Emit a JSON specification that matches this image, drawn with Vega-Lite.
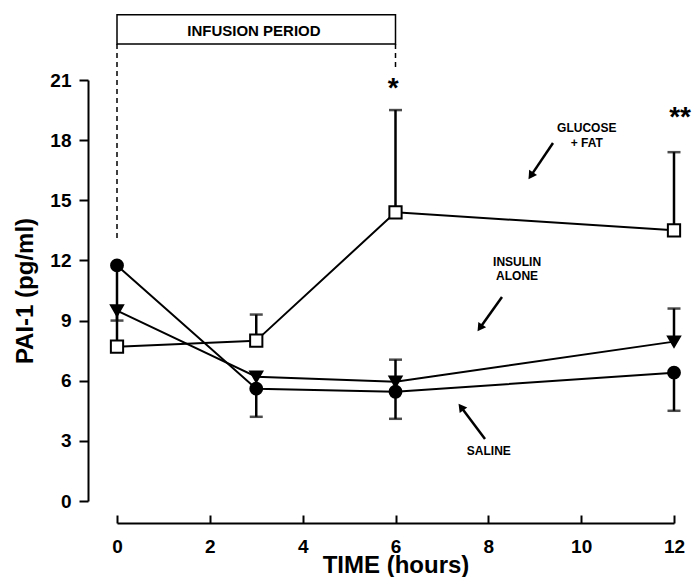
{
  "$schema": "https://vega.github.io/schema/vega-lite/v6.json",
  "width": 557,
  "height": 421,
  "autosize": {"type": "none"},
  "padding": {"left": 117, "top": 80, "right": 20, "bottom": 76},
  "background": "white",
  "config": {"view": {"stroke": null}, "font": "Liberation Sans", "axis": {"grid": false}},
  "datasets": {
    "means": [
      {"series": "Glucose + fat", "time": 0, "pai": 7.7},
      {"series": "Glucose + fat", "time": 3, "pai": 8.0},
      {"series": "Glucose + fat", "time": 6, "pai": 14.4},
      {"series": "Glucose + fat", "time": 12, "pai": 13.5},
      {"series": "Insulin alone", "time": 0, "pai": 9.5},
      {"series": "Insulin alone", "time": 3, "pai": 6.2},
      {"series": "Insulin alone", "time": 6, "pai": 5.95},
      {"series": "Insulin alone", "time": 12, "pai": 7.95},
      {"series": "Saline", "time": 0, "pai": 11.75},
      {"series": "Saline", "time": 3, "pai": 5.6},
      {"series": "Saline", "time": 6, "pai": 5.45},
      {"series": "Saline", "time": 12, "pai": 6.4}
    ],
    "errs": [
      {"series": "Glucose + fat", "time": 3, "pai": 8.0, "pai2": 9.3},
      {"series": "Glucose + fat", "time": 6, "pai": 14.4, "pai2": 19.5},
      {"series": "Glucose + fat", "time": 12, "pai": 13.5, "pai2": 17.4},
      {"series": "Insulin alone", "time": 0, "pai": 9.5, "pai2": 7.8},
      {"series": "Insulin alone", "time": 6, "pai": 5.95, "pai2": 7.05},
      {"series": "Insulin alone", "time": 12, "pai": 7.95, "pai2": 9.6},
      {"series": "Saline", "time": 0, "pai": 11.75, "pai2": 9.0},
      {"series": "Saline", "time": 3, "pai": 5.6, "pai2": 4.2},
      {"series": "Saline", "time": 6, "pai": 5.45, "pai2": 4.1},
      {"series": "Saline", "time": 12, "pai": 6.4, "pai2": 4.5}
    ],
    "arrows": [
      {"arrow": "glucose", "time": 9.393, "pai": 17.86, "time2": 8.915, "pai2": 16.22},
      {"arrow": "insulin", "time": 8.294, "pai": 10.18, "time2": 7.818, "pai2": 8.63},
      {"arrow": "saline", "time": 7.928, "pai": 3.09, "time2": 7.411, "pai2": 4.69}
    ],
    "notes": [
      {"time": 10.12, "pai": 18.6, "label": "GLUCOSE"},
      {"time": 10.12, "pai": 17.86, "label": "+ FAT"},
      {"time": 8.62, "pai": 11.92, "label": "INSULIN"},
      {"time": 8.62, "pai": 11.22, "label": "ALONE"},
      {"time": 8.01, "pai": 2.5, "label": "SALINE"}
    ]
  },
  "encoding": {
    "x": {
      "field": "time", "type": "quantitative",
      "scale": {"domain": [0, 12], "nice": false, "zero": false},
      "axis": {
        "title": "TIME (hours)", "values": [0, 2, 4, 6, 8, 10, 12], "offset": 22,
        "tickSize": -8, "tickWidth": 2, "tickColor": "black", "domainWidth": 2, "domainColor": "black",
        "labelFont": "Liberation Sans", "labelFontWeight": "bold", "labelFontSize": 19, "labelColor": "black",
        "labelPadding": 22, "labelFlush": false, "labelOverlap": false,
        "titleFont": "Liberation Sans", "titleFontWeight": "bold", "titleFontSize": 24, "titleColor": "black", "titlePadding": -3
      }
    },
    "y": {
      "field": "pai", "type": "quantitative",
      "scale": {"domain": [0, 21], "nice": false, "zero": false},
      "axis": {
        "title": "PAI-1 (pg/ml)", "values": [0, 3, 6, 9, 12, 15, 18, 21], "offset": 29,
        "tickSize": 9, "tickWidth": 2, "tickColor": "black", "domainWidth": 2, "domainColor": "black",
        "labelFont": "Liberation Sans", "labelFontWeight": "bold", "labelFontSize": 19, "labelColor": "black",
        "labelPadding": 8, "labelOverlap": false,
        "titleFont": "Liberation Sans", "titleFontWeight": "bold", "titleFontSize": 24, "titleColor": "black", "titlePadding": 12
      }
    }
  },
  "layer": [
    {
      "data": {"values": [{"time": 0, "time2": 6, "pai": 22.8, "pai2": 24.25}]},
      "mark": {"type": "rect", "fill": "white", "stroke": "black", "strokeWidth": 1.5, "clip": false},
      "encoding": {"x2": {"field": "time2"}, "y2": {"field": "pai2"}}
    },
    {
      "data": {"values": [{"time": 2.95, "pai": 23.42, "label": "INFUSION PERIOD"}]},
      "mark": {"type": "text", "font": "Liberation Sans", "fontWeight": "bold", "fontSize": 15, "color": "black", "baseline": "middle", "align": "center"},
      "encoding": {"text": {"field": "label"}}
    },
    {
      "data": {"values": [{"time": 0, "pai": 22.8, "pai2": 13.1}, {"time": 6, "pai": 22.8, "pai2": 21.6}]},
      "mark": {"type": "rule", "color": "black", "strokeWidth": 1.5, "strokeDash": [5, 4]},
      "encoding": {"y2": {"field": "pai2"}}
    },
    {
      "data": {"name": "means"},
      "mark": {"type": "line", "color": "black", "strokeWidth": 2},
      "encoding": {"detail": {"field": "series"}}
    },
    {
      "data": {"name": "errs"},
      "mark": {"type": "rule", "color": "black", "strokeWidth": 2.5},
      "encoding": {"y2": {"field": "pai2"}}
    },
    {
      "data": {"name": "errs"},
      "mark": {"type": "tick", "color": "black", "orient": "horizontal", "size": 13, "thickness": 2.5},
      "encoding": {"y": {"field": "pai2", "type": "quantitative", "scale": {"domain": [0, 21], "nice": false, "zero": false}}}
    },
    {
      "data": {"name": "means"},
      "mark": {"type": "point", "filled": true, "opacity": 1, "stroke": "black", "strokeWidth": 2},
      "encoding": {
        "shape": {"field": "series", "type": "nominal", "scale": {"domain": ["Glucose + fat", "Insulin alone", "Saline"], "range": ["square", "triangle-down", "circle"]}, "legend": null},
        "fill": {"field": "series", "type": "nominal", "scale": {"domain": ["Glucose + fat", "Insulin alone", "Saline"], "range": ["white", "black", "black"]}, "legend": null},
        "size": {"field": "series", "type": "nominal", "scale": {"domain": ["Glucose + fat", "Insulin alone", "Saline"], "range": [150, 140, 150]}, "legend": null}
      }
    },
    {
      "data": {"name": "notes"},
      "mark": {"type": "text", "font": "Liberation Sans", "fontWeight": "bold", "fontSize": 12, "color": "black", "baseline": "middle", "align": "center"},
      "encoding": {"text": {"field": "label"}}
    },
    {
      "data": {"name": "arrows"},
      "mark": {"type": "rule", "color": "black", "strokeWidth": 2.5},
      "encoding": {"x2": {"field": "time2"}, "y2": {"field": "pai2"}}
    },
    {
      "data": {"name": "arrows"},
      "transform": [{"filter": "datum.arrow == 'glucose'"}],
      "mark": {"type": "point", "shape": "triangle-up", "filled": true, "color": "black", "opacity": 1, "size": 90, "angle": 214},
      "encoding": {
        "x": {"field": "time2", "type": "quantitative", "scale": {"domain": [0, 12], "nice": false, "zero": false}},
        "y": {"field": "pai2", "type": "quantitative", "scale": {"domain": [0, 21], "nice": false, "zero": false}}
      }
    },
    {
      "data": {"name": "arrows"},
      "transform": [{"filter": "datum.arrow == 'insulin'"}],
      "mark": {"type": "point", "shape": "triangle-up", "filled": true, "color": "black", "opacity": 1, "size": 90, "angle": 215},
      "encoding": {
        "x": {"field": "time2", "type": "quantitative", "scale": {"domain": [0, 12], "nice": false, "zero": false}},
        "y": {"field": "pai2", "type": "quantitative", "scale": {"domain": [0, 21], "nice": false, "zero": false}}
      }
    },
    {
      "data": {"name": "arrows"},
      "transform": [{"filter": "datum.arrow == 'saline'"}],
      "mark": {"type": "point", "shape": "triangle-up", "filled": true, "color": "black", "opacity": 1, "size": 90, "angle": 323},
      "encoding": {
        "x": {"field": "time2", "type": "quantitative", "scale": {"domain": [0, 12], "nice": false, "zero": false}},
        "y": {"field": "pai2", "type": "quantitative", "scale": {"domain": [0, 21], "nice": false, "zero": false}}
      }
    },
    {
      "data": {"values": [{"time": 5.95, "pai": 20.15, "label": "*"}]},
      "mark": {"type": "text", "font": "Liberation Sans", "fontWeight": "bold", "fontSize": 28, "color": "black", "baseline": "alphabetic", "align": "center"},
      "encoding": {"text": {"field": "label"}}
    },
    {
      "data": {"values": [{"time": 12.13, "pai": 18.73, "label": "**"}]},
      "mark": {"type": "text", "font": "Liberation Sans", "fontWeight": "bold", "fontSize": 28, "color": "black", "baseline": "alphabetic", "align": "center"},
      "encoding": {"text": {"field": "label"}}
    }
  ]
}
